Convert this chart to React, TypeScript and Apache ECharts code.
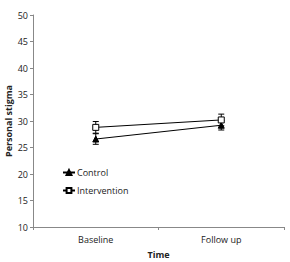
import React, { useEffect, useRef } from "react";
import * as echarts from "echarts";

const categories = ["Baseline", "Follow up"];
const controlMean = [26.6, 29.2];
const controlErr = [1.0, 0.9];
const interventionMean = [28.8, 30.2];
const interventionErr = [1.1, 1.1];
const yTicks = { min: 10, max: 50, interval: 5 };

const FONT = "Open Sans";

function errorSeries(name: string, mean: number[], err: number[]) {
  return {
    type: "custom",
    name: name + "-err",
    z: 1,
    silent: true,
    data: mean.map((m, i) => [i, m - err[i], m + err[i]]),
    renderItem: (params: any, api: any) => {
      const x = api.value(0);
      const lo = api.coord([x, api.value(1)]);
      const hi = api.coord([x, api.value(2)]);
      const w = 3;
      const style = { stroke: "#000", lineWidth: 1 };
      return {
        type: "group",
        children: [
          { type: "line", shape: { x1: lo[0], y1: lo[1], x2: hi[0], y2: hi[1] }, style },
          { type: "line", shape: { x1: lo[0] - w, y1: lo[1], x2: lo[0] + w, y2: lo[1] }, style },
          { type: "line", shape: { x1: hi[0] - w, y1: hi[1], x2: hi[0] + w, y2: hi[1] }, style },
        ],
      };
    },
  };
}

export default function App() {
  const ref = useRef<HTMLDivElement>(null);
  useEffect(() => {
    const chart = echarts.init(ref.current!, null, { renderer: "svg" });
    chart.setOption({
      animation: false,
      backgroundColor: "#fff",
      textStyle: { fontFamily: FONT },
      grid: { left: 33, right: 6, top: 15, bottom: 35, outerBoundsMode: "none", containLabel: false },
      legend: {
        orient: "vertical",
        left: 57,
        top: 163,
        itemGap: 9,
        itemWidth: 12,
        itemHeight: 6,
        data: ["Control", "Intervention"],
        textStyle: { fontFamily: FONT, fontSize: 9, color: "#222", padding: [0, 0, 0, -3] },
      },
      xAxis: {
        type: "category",
        data: categories,
        boundaryGap: true,
        name: "Time",
        nameLocation: "middle",
        nameGap: 23,
        nameMoveOverlap: false,
        nameTextStyle: { fontFamily: FONT, fontSize: 9, fontWeight: "bold", color: "#222" },
        axisLine: { lineStyle: { color: "#888", width: 1 } },
        axisTick: { show: true, length: 3, lineStyle: { color: "#888" } },
        axisLabel: { fontFamily: FONT, fontSize: 9, color: "#222", margin: 8 },
      },
      yAxis: {
        type: "value",
        min: yTicks.min,
        max: yTicks.max,
        interval: yTicks.interval,
        name: "Personal stigma",
        nameLocation: "middle",
        nameGap: 20,
        nameMoveOverlap: false,
        nameTextStyle: { fontFamily: FONT, fontSize: 9, fontWeight: "bold", color: "#222" },
        axisLine: { show: true, lineStyle: { color: "#888", width: 1 } },
        axisTick: { show: true, length: 3, lineStyle: { color: "#888" } },
        axisLabel: { fontFamily: FONT, fontSize: 9, color: "#222", margin: 5 },
        splitLine: { show: false },
      },
      series: [
        errorSeries("Control", controlMean, controlErr),
        errorSeries("Intervention", interventionMean, interventionErr),
        {
          type: "line",
          name: "Control",
          data: controlMean,
          z: 3,
          symbol: "triangle",
          symbolSize: 6,
          lineStyle: { color: "#000", width: 1 },
          itemStyle: { color: "#000", borderColor: "#000", borderWidth: 1 },
        },
        {
          type: "line",
          name: "Intervention",
          data: interventionMean,
          z: 3,
          symbol: "rect",
          symbolSize: 6,
          showSymbol: true,
          lineStyle: { color: "#000", width: 1 },
          itemStyle: { color: "#fff", borderColor: "#000", borderWidth: 1 },
        },
      ],
    });
    return () => chart.dispose();
  }, []);
  return <div ref={ref} style={{ position: "absolute", left: 0, top: 0, width: 290, height: 262 }} />;
}
